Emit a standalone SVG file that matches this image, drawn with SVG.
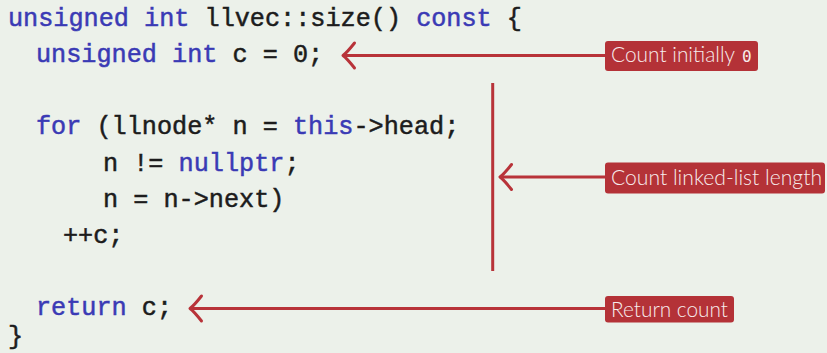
<svg xmlns="http://www.w3.org/2000/svg" width="827" height="353" viewBox="0 0 827 353">
  <style>
    .code { font-family: "Liberation Mono", "DejaVu Sans Mono", monospace; font-size: 25.2px; fill: #1c1c1c; stroke: #1c1c1c; stroke-width: 0.5px; white-space: pre; }
    .kw { fill: #3a3ab5; stroke: #3a3ab5; }
    .box { fill: #b43237; }
    .lbl { font-family: Lato, "Open Sans", sans-serif; font-size: 21px; font-weight: 300; fill: #f7ecec; }
    .num { font-family: "DejaVu Sans Mono", monospace; font-size: 16px; fill: #f7ecec; }
    .conn { stroke: #b83339; stroke-width: 3px; fill: none; }
  </style>
  <defs>
    <marker id="barb" markerUnits="userSpaceOnUse" orient="auto" refX="0" refY="0" markerWidth="30" markerHeight="30" overflow="visible">
      <path d="M -11.5 -12.5 Q -4 -3 0 0 Q -4 3 -11.5 12.5" fill="none" stroke="#b83339" stroke-width="3" stroke-linecap="round" stroke-linejoin="round"/>
    </marker>
  </defs>
  <rect width="827" height="353" fill="#ecf1ea"/>

  <g id="code">
    <text class="code" x="8" y="26" xml:space="preserve"><tspan class="kw">unsigned</tspan> <tspan class="kw">int</tspan> llvec::size() <tspan class="kw">const</tspan> {</text>
    <text class="code" x="36" y="62" xml:space="preserve"><tspan class="kw">unsigned</tspan> <tspan class="kw">int</tspan> c = 0;</text>
    <text class="code" x="36" y="134.4" xml:space="preserve"><tspan class="kw">for</tspan> (llnode* n = <tspan class="kw">this</tspan>-&gt;head;</text>
    <text class="code" x="103" y="170.5" xml:space="preserve">n != <tspan class="kw">nullptr</tspan>;</text>
    <text class="code" x="103" y="206.6" xml:space="preserve">n = n-&gt;next)</text>
    <text class="code" x="63" y="242.7" xml:space="preserve">++c;</text>
    <text class="code" x="36" y="315" xml:space="preserve"><tspan class="kw">return</tspan> c;</text>
    <text class="code" x="8" y="344" xml:space="preserve">}</text>
  </g>

  <g id="connectors">
    <line class="conn" x1="605" y1="55.5" x2="343" y2="55.5" marker-end="url(#barb)"/>
    <line class="conn" x1="492.7" y1="83" x2="492.7" y2="271"/>
    <line class="conn" x1="605" y1="177" x2="500" y2="177" marker-end="url(#barb)"/>
    <line class="conn" x1="605" y1="308.5" x2="190" y2="308.5" marker-end="url(#barb)"/>
  </g>

  <g id="label-init">
    <rect class="box" x="605" y="41" width="153" height="30" rx="3"/>
    <text class="lbl" x="611" y="62" textLength="124" lengthAdjust="spacingAndGlyphs">Count initially</text>
    <text class="num" x="742" y="61.5">0</text>
  </g>

  <g id="label-length">
    <rect class="box" x="605" y="162.5" width="220" height="31" rx="3"/>
    <text class="lbl" x="611" y="185" textLength="211" lengthAdjust="spacingAndGlyphs">Count linked-list length</text>
  </g>

  <g id="label-return">
    <rect class="box" x="605" y="296" width="129" height="26.5" rx="3"/>
    <text class="lbl" x="611" y="316.5" textLength="117" lengthAdjust="spacingAndGlyphs">Return count</text>
  </g>
</svg>
